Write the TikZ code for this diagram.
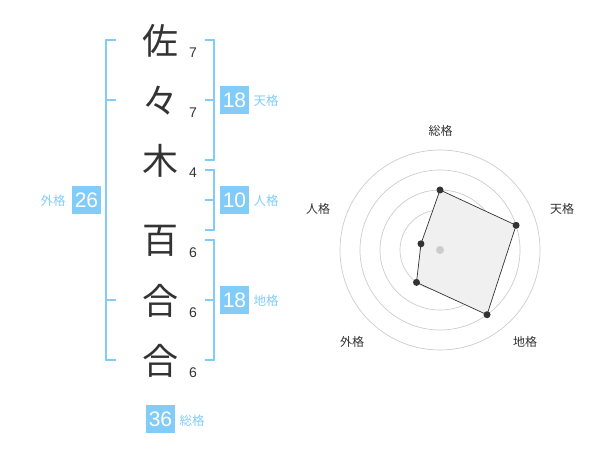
\documentclass[tikz,border=0pt]{standalone}
\usepackage{fontspec}
\usetikzlibrary{calc}
\setmainfont{Liberation Sans}
\newfontfamily\cjk{Noto Sans CJK JP}
\definecolor{lblue}{RGB}{130,204,250}
\definecolor{dgray}{RGB}{51,51,51}
\definecolor{cgray}{RGB}{204,204,204}
\definecolor{pfill}{RGB}{240,240,240}
\tikzset{
  brk/.style={draw=lblue,line width=1.8pt},
  bigch/.style={inner sep=0pt,text=dgray,font=\cjk\fontsize{36}{36}\selectfont},
  strk/.style={inner sep=0pt,text=dgray,font=\fontsize{14}{14}\selectfont},
  numbox/.style={fill=lblue,text=white,minimum width=29pt,minimum height=28pt,inner sep=0pt,font=\fontsize{21}{21}\selectfont},
  kaku/.style={inner sep=0pt,text=lblue,font=\cjk\fontsize{12.5}{12.5}\selectfont},
  rlab/.style={inner sep=0pt,text=dgray,font=\cjk\fontsize{12}{12}\selectfont},
  ring/.style={draw=cgray,line width=0.7pt},
  pt/.style={circle,fill=dgray,inner sep=0pt,minimum size=7pt},
}
\begin{document}
\begin{tikzpicture}[x=1pt,y=-1pt]
\useasboundingbox (0,0) rectangle (600,470);
% characters
\node[bigch] (c1) at (160,41) {佐};
\node[bigch] (c2) at (160,101) {々};
\node[bigch] (c3) at (160,161) {木};
\node[bigch] (c4) at (160,241) {百};
\node[bigch] (c5) at (160,301) {合};
\node[bigch] (c6) at (160,361) {合};
% stroke counts
\node[strk] (s1) at (193,53) {7};
\node[strk] (s2) at (193,113) {7};
\node[strk] (s3) at (193,173) {4};
\node[strk] (s4) at (193,253) {6};
\node[strk] (s5) at (193,313) {6};
\node[strk] (s6) at (193,373) {6};
% brackets
\draw[brk] (116,40) -- (106,40) -- (106,360) -- (116,360);
\draw[brk] (106,100) -- (116,100);
\draw[brk] (106,300) -- (116,300);
\draw[brk] (205,40) -- (214,40) -- (214,160) -- (205,160);
\draw[brk] (205,100) -- (214,100);
\draw[brk] (205,170) -- (214,170) -- (214,230) -- (205,230);
\draw[brk] (205,200) -- (214,200);
\draw[brk] (205,240) -- (214,240) -- (214,360) -- (205,360);
\draw[brk] (205,300) -- (214,300);
% boxes and labels
\node[numbox] (ten) at (234.5,100) {18};
\node[kaku] (tenl) at (266,101) {天格};
\node[numbox] (jin) at (234.5,200) {10};
\node[kaku] (jinl) at (266,201) {人格};
\node[numbox] (chi) at (234.5,300) {18};
\node[kaku] (chil) at (266,301) {地格};
\node[numbox] (gai) at (86.5,200) {26};
\node[kaku] (gail) at (53,201) {外格};
\node[numbox] (so) at (160.5,419) {36};
\node[kaku] (sol) at (192,421) {総格};
% radar
\coordinate (rc) at (440,250);
\foreach \r in {20,40,60,80,100} \draw[ring] (rc) circle[radius=\r];
\coordinate (pso) at ($(rc)+(-90:60)$);
\coordinate (pten) at ($(rc)+(-18:80)$);
\coordinate (pchi) at ($(rc)+(54:80)$);
\coordinate (pgai) at ($(rc)+(126:40)$);
\coordinate (pjin) at ($(rc)+(198:20)$);
\filldraw[fill=pfill,draw=dgray,line width=0.7pt] (pso) -- (pten) -- (pchi) -- (pgai) -- (pjin) -- cycle;
\node[circle,fill=cgray,inner sep=0pt,minimum size=8pt] (rcd) at (rc) {};
\foreach \p in {pso,pten,pchi,pgai,pjin} \node[pt] at (\p) {};
\node[rlab] (lso) at (440.5,130.5) {総格};
\node[rlab] (lten) at (562,208.5) {天格};
\node[rlab] (lchi) at (525,342) {地格};
\node[rlab] (lgai) at (352,342) {外格};
\node[rlab] (ljin) at (318,208.5) {人格};
\end{tikzpicture}
\end{document}
